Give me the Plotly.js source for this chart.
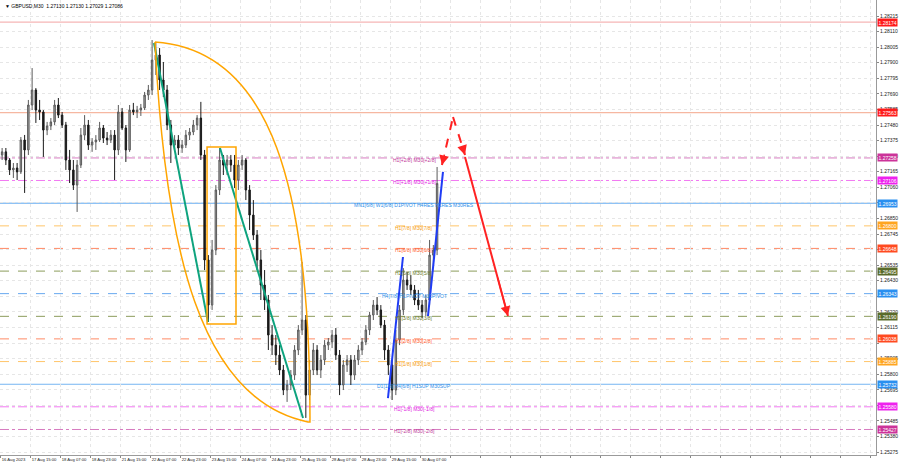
<!DOCTYPE html>
<html><head><meta charset="utf-8">
<script src="https://cdn.plot.ly/plotly-3.0.1.min.js"></script>
<style>html,body{margin:0;padding:0;background:#fff;}#chart{width:900px;height:468px;}</style>
</head><body><div id="chart"></div>
<script>
// ---- data (2-hour aggregated candles) ----
const candleOpen = [1.27278,1.27299,1.27244,1.27177,1.27190,1.27164,1.27379,1.27312,1.27615,1.27716,1.27581,1.27568,1.27446,1.27474,1.27501,1.27615,1.27547,1.27480,1.27244,1.27177,1.27075,1.27210,1.27412,1.27480,1.27345,1.27366,1.27379,1.27460,1.27392,1.27379,1.27412,1.27312,1.27568,1.27460,1.27312,1.27581,1.27568,1.27581,1.27595,1.27682,1.27716,1.27918,1.27952,1.27784,1.27716,1.27480,1.27345,1.27379,1.27325,1.27345,1.27412,1.27433,1.27480,1.27527,1.27278,1.26570,1.26266,1.26637,1.27042,1.27244,1.27210,1.27244,1.27210,1.27109,1.27210,1.27244,1.27042,1.26873,1.26738,1.26570,1.26401,1.26300,1.26064,1.25996,1.25929,1.25828,1.25693,1.25727,1.25794,1.25963,1.26098,1.26165,1.25659,1.25828,1.25963,1.25828,1.25896,1.25996,1.26017,1.26064,1.25929,1.25727,1.25862,1.25896,1.25794,1.25896,1.25963,1.26017,1.26098,1.26199,1.26266,1.26233,1.26131,1.25963,1.25862,1.25693,1.26030,1.26233,1.26435,1.26401,1.26368,1.26300,1.26266,1.26220,1.26300,1.26603,1.26637];
const candleHigh = [1.27325,1.27325,1.27257,1.27224,1.27224,1.27399,1.27413,1.27649,1.27864,1.27729,1.27649,1.27581,1.27501,1.27527,1.27649,1.27662,1.27568,1.27501,1.27312,1.27244,1.27244,1.27460,1.27547,1.27514,1.27392,1.27412,1.27501,1.27480,1.27433,1.27446,1.27446,1.27615,1.27595,1.27480,1.27615,1.27629,1.27609,1.27622,1.27703,1.27750,1.28053,1.28040,1.27999,1.27905,1.27750,1.27514,1.27412,1.27412,1.27379,1.27446,1.27460,1.27514,1.27547,1.27636,1.27312,1.26603,1.26705,1.27075,1.27325,1.27278,1.27278,1.27278,1.27278,1.27244,1.27278,1.27257,1.27075,1.26974,1.26772,1.26637,1.26502,1.26334,1.26131,1.26064,1.25996,1.25862,1.25761,1.25828,1.25996,1.26131,1.26557,1.26199,1.25896,1.26010,1.25996,1.25929,1.26030,1.26044,1.26098,1.26111,1.25963,1.25896,1.25929,1.25929,1.25929,1.25996,1.26044,1.26131,1.26220,1.26300,1.26320,1.26266,1.26165,1.25996,1.25896,1.26098,1.26266,1.26515,1.26489,1.26468,1.26401,1.26368,1.26300,1.26334,1.26705,1.26671,1.27197];
const candleLow = [1.27244,1.27210,1.27143,1.27123,1.27109,1.27150,1.27022,1.27278,1.27581,1.27494,1.27514,1.27265,1.27412,1.27446,1.27480,1.27527,1.27460,1.27177,1.27089,1.27042,1.26894,1.27190,1.27379,1.27312,1.27299,1.27312,1.27366,1.27359,1.27345,1.27359,1.27109,1.27278,1.27446,1.27231,1.27299,1.27547,1.27527,1.27541,1.27581,1.27649,1.27682,1.27817,1.27716,1.27669,1.27446,1.27224,1.27312,1.27278,1.27292,1.27325,1.27379,1.27412,1.27446,1.27244,1.26502,1.26152,1.26233,1.26603,1.27008,1.27143,1.27143,1.27164,1.27055,1.27042,1.27177,1.26974,1.26772,1.26705,1.26502,1.26300,1.26233,1.25963,1.25929,1.25862,1.25794,1.25659,1.25613,1.25693,1.25761,1.25929,1.26064,1.25505,1.25626,1.25794,1.25794,1.25774,1.25862,1.25963,1.25976,1.25896,1.25659,1.25693,1.25815,1.25727,1.25761,1.25862,1.25929,1.25996,1.26064,1.26165,1.26199,1.26111,1.25896,1.25794,1.25626,1.25659,1.25996,1.26199,1.26368,1.26334,1.26266,1.26233,1.26178,1.26192,1.26266,1.26536,1.26603];
const candleClose = [1.27299,1.27244,1.27177,1.27190,1.27164,1.27379,1.27312,1.27615,1.27716,1.27581,1.27568,1.27446,1.27474,1.27501,1.27615,1.27547,1.27480,1.27244,1.27177,1.27075,1.27210,1.27412,1.27480,1.27345,1.27366,1.27379,1.27460,1.27392,1.27379,1.27412,1.27312,1.27568,1.27460,1.27312,1.27581,1.27568,1.27581,1.27595,1.27682,1.27716,1.27918,1.27952,1.27784,1.27716,1.27480,1.27345,1.27379,1.27325,1.27345,1.27412,1.27433,1.27480,1.27527,1.27278,1.26570,1.26266,1.26637,1.27042,1.27244,1.27210,1.27244,1.27210,1.27109,1.27210,1.27244,1.27042,1.26873,1.26738,1.26570,1.26401,1.26300,1.26064,1.25996,1.25929,1.25828,1.25693,1.25727,1.25794,1.25963,1.26098,1.26165,1.25659,1.25828,1.25963,1.25828,1.25896,1.25996,1.26017,1.26064,1.25929,1.25727,1.25862,1.25896,1.25794,1.25896,1.25963,1.26017,1.26098,1.26199,1.26266,1.26233,1.26131,1.25963,1.25862,1.25693,1.26030,1.26233,1.26435,1.26401,1.26368,1.26300,1.26266,1.26220,1.26300,1.26603,1.26637,1.27086];
const barsPerCandle = 4;

// x-axis labels (one every 32 M30 bars)
const timeLabels = ["16 Aug 2023","17 Aug 15:00","18 Aug 07:00","18 Aug 23:00","21 Aug 15:00","22 Aug 07:00","22 Aug 23:00","23 Aug 15:00","24 Aug 07:00","24 Aug 23:00","25 Aug 15:00","28 Aug 07:00","28 Aug 23:00","29 Aug 15:00","30 Aug 07:00"];
const priceTicks = [1.25275,1.25380,1.25485,1.25590,1.25695,1.25800,1.25905,1.26010,1.26115,1.26220,1.26325,1.26430,1.26535,1.26640,1.26745,1.26850,1.26955,1.27060,1.27165,1.27270,1.27375,1.27480,1.27585,1.27690,1.27795,1.27900,1.28005,1.28110,1.28215];
// tick labels hidden behind level price tags in the picture
const hiddenTicks = [1.25590,1.26010,1.26325,1.26640,1.26955];

// Murrey-math style levels
const levelPrices = [1.28174,1.27563,1.27258,1.27106,1.26953,1.26800,1.26648,1.26495,1.26343,1.26190,1.26038,1.25885,1.25732,1.25580,1.25427];
const levelNames = ["","","H1[+2/8] M30[+2/8]","H1[+1/8] M30[+1/8]","MN1[6/8] W1[6/8] D1PIVOT H4RES H1RES M30RES","H1[7/8] M30[7/8]","H1[6/8] M30[6/8]","H1[5/8] M30[5/8]","H4[7/8] H1PIVOT M30PIVOT","H1[3/8] M30[3/8]","H1[2/8] M30[2/8]","H1[1/8] M30[1/8]","D1[1/8] H4[6/8] H1SUP M30SUP","H1[-1/8] M30[-1/8]","H1[-2/8] M30[-2/8]"];
const titleText = "GBPUSD,M30  1.27130 1.27130 1.27029 1.27086";

// drawing objects: anchor points [bar index, price]
const greenLine1 = [[163.5,1.28033],[221.1,1.26152]];
const greenLine2 = [[233.9,1.27325],[322.5,1.25505]];
const boxCorners = [[220.1,1.27332],[251.0,1.26138]];
const blueLineA = [[413.1,1.25639],[429.1,1.26590]];
const blueLineB = [[455.8,1.26192],[471.8,1.27164]];
const redDash1 = [[470.7,1.27210],[482.5,1.27534]];
const redDash2 = [[482.5,1.27534],[495.3,1.27278]];
const redSolid = [[495.3,1.27265],[541.1,1.26192]];
const arcRight = [[164.6,1.28040],[290.0,1.27986],[330.5,1.27042],[329.9,1.25478]];
const arcLeft = [[327.8,1.25478],[212.6,1.25626],[175.3,1.26637],[164.6,1.28040]];

// ---- styles ----
const levelLineColors = ["#f3a3a3","#f4a58a","#d77cc0","#f27af2","#5aa5ef","#ffc56a","#ff8a66","#8c9c5c","#67a9ef","#8c9c5c","#ff8a66","#ffc56a","#76b5f2","#f27af2","#d77cc0"];
const levelTextColors = ["#ff0000","#ff0000","#c0399a","#e020e0","#2f8fe8","#f59a10","#ff5a2a","#6b7b2a","#2f8fe8","#6b7b2a","#ff5a2a","#f59a10","#2f8fe8","#e020e0","#c0399a"];
const levelBg = ["#ff1a1a","#ff1a1a","#cc3399","#ee22ee","#2a8ff0","#ffa520","#ff4a20","#5a6b2a","#2a8ff0","#5a6b2a","#ff4a20","#ffa520","#2a8ff0","#ee22ee","#cc3399"];
const levelDash = ["solid","solid","dashdot","dashdot","solid","dash","dash","dash","dash","dash","dash","dash","solid","dashdot","dashdot"];
const FONT = "Liberation Sans, Arial, sans-serif";
const FS = 5;

const xs = candleOpen.map((_, k) => k * barsPerCandle + (barsPerCandle - 1) / 2);
const candle = {
  type: "candlestick", x: xs, open: candleOpen, high: candleHigh, low: candleLow, close: candleClose,
  increasing: {line: {color: "#5a5a5a", width: 1}, fillcolor: "#a8a8a8"},
  decreasing: {line: {color: "#1a1a1a", width: 1}, fillcolor: "#1a1a1a"},
  whiskerwidth: 0, hoverinfo: "skip", showlegend: false
};

const shapes = [];
const annotations = [];
levelPrices.forEach((p, i) => {
  shapes.push({type: "line", xref: "paper", x0: 0, x1: 1, yref: "y", y0: p, y1: p,
    line: {color: levelLineColors[i], width: 1, dash: levelDash[i]}, layer: "below"});
  if (levelNames[i]) {
    annotations.push({x: 441, y: p, xref: "x", yref: "y", text: levelNames[i], showarrow: false,
      xanchor: "center", yanchor: "middle", yshift: -2, font: {family: FONT, size: FS, color: levelTextColors[i]}});
  }
  annotations.push({x: 1, y: p, xref: "paper", yref: "y", text: p.toFixed(5), showarrow: false,
    xanchor: "left", yanchor: "middle", xshift: 1, bgcolor: levelBg[i], borderpad: 0.5,
    font: {family: FONT, size: FS, color: "#ffffff"}});
});

function seg(pts, color, width, dash) {
  shapes.push({type: "line", xref: "x", yref: "y", x0: pts[0][0], y0: pts[0][1], x1: pts[1][0], y1: pts[1][1],
    line: {color: color, width: width, dash: dash || "solid"}});
}
seg(greenLine1, "#0ea37e", 2);
seg(greenLine2, "#0ea37e", 2);
seg(blueLineA, "#1f3cf5", 2);
seg(blueLineB, "#1f3cf5", 2);
seg(redDash1, "#ff2222", 2, "dash");
seg(redDash2, "#ff2222", 2, "dash");
seg(redSolid, "#ff2222", 2);
shapes.push({type: "rect", xref: "x", yref: "y", x0: boxCorners[0][0], y0: boxCorners[0][1], x1: boxCorners[1][0], y1: boxCorners[1][1],
  line: {color: "#ffa500", width: 1.5}});
const pt = p => p[0] + "," + p[1];
const arcPath = "M " + pt(arcRight[0]) + " C " + pt(arcRight[1]) + " " + pt(arcRight[2]) + " " + pt(arcRight[3]) +
  " L " + pt(arcLeft[0]) + " C " + pt(arcLeft[1]) + " " + pt(arcLeft[2]) + " " + pt(arcLeft[3]);
shapes.push({type: "path", xref: "x", yref: "y", path: arcPath, line: {color: "#ffa500", width: 1.5}});

// arrowheads
function head(tipPt, fromPt) {
  annotations.push({x: tipPt[0], y: tipPt[1], ax: tipPt[0] + (fromPt[0] - tipPt[0]) * 0.25, ay: tipPt[1] + (fromPt[1] - tipPt[1]) * 0.25,
    xref: "x", yref: "y", axref: "x", ayref: "y", text: "", showarrow: true, arrowhead: 2, arrowsize: 1.3, arrowwidth: 1.5, arrowcolor: "#ff2222"});
}
head(redDash2[1], redDash2[0]);
head(redSolid[1], redSolid[0]);
head(redDash1[0], redDash1[1]);

annotations.push({x: 0.003, y: 0.997, xref: "paper", yref: "paper", xanchor: "left", yanchor: "top", showarrow: false,
  text: "▼ " + titleText, font: {family: FONT, size: FS, color: "#000"}});

const gridVals = [];
const gridText = [];
for (let k = 0; k * 32 <= 930; k++) { gridVals.push(k * 32); gridText.push(timeLabels[k] || ""); }

const layout = {
  width: 900, height: 468,
  margin: {l: 0, r: 24, t: 0, b: 13, pad: 0},
  paper_bgcolor: "#ffffff", plot_bgcolor: "#ffffff",
  showlegend: false, hovermode: false, dragmode: false, boxgap: 0.45,
  xaxis: {range: [-0.75, 933.7], tickmode: "array", tickvals: gridVals, ticktext: gridText, tickangle: 0,
    ticklabelposition: "outside right", ticks: "outside", ticklen: 2, tickcolor: "#888",
    showgrid: true, gridcolor: "#e6e6e6", gridwidth: 1, griddash: "dot", zeroline: false,
    showline: true, linecolor: "#9a9a9a", linewidth: 1, rangeslider: {visible: false},
    tickfont: {family: FONT, size: 4.2, color: "#222"}, fixedrange: true},
  yaxis: {range: [1.25255, 1.28323], side: "right", tickmode: "array", tickvals: priceTicks,
    ticktext: priceTicks.map(v => hiddenTicks.includes(v) ? "" : v.toFixed(5)), ticks: "outside", ticklen: 2, tickcolor: "#888",
    showgrid: true, gridcolor: "#e6e6e6", gridwidth: 1, griddash: "dot", zeroline: false,
    showline: true, linecolor: "#9a9a9a", linewidth: 1,
    tickfont: {family: FONT, size: FS, color: "#222"}, fixedrange: true},
  shapes: shapes, annotations: annotations
};
Plotly.newPlot("chart", [candle], layout, {displayModeBar: false, staticPlot: true});
</script></body></html>
